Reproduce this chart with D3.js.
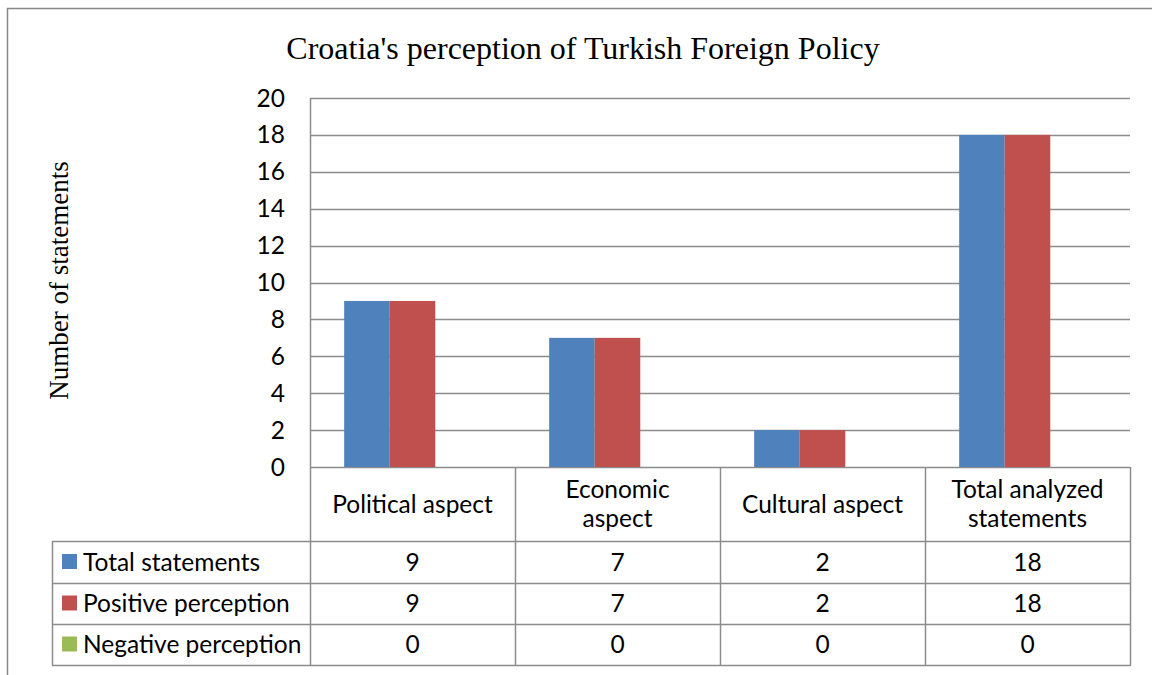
<!DOCTYPE html>
<html lang="en">
<head>
<meta charset="UTF-8">
<title>Croatia's perception of Turkish Foreign Policy</title>
<style>
  body { margin: 0; background: #fff; }
  svg { display: block; }
</style>
</head>
<body>
<div id="chart"></div>
<script src="https://d3js.org/d3.v7.min.js"></script>
<script>
// chart data
var categories = ["Political aspect", "Economic aspect", "Cultural aspect", "Total analyzed statements"];
var categoryLines = [["Political aspect"], ["Economic", "aspect"], ["Cultural aspect"], ["Total analyzed", "statements"]];
var seriesNames = ["Total statements", "Positive perception", "Negative perception"];
var totalStatements = [9, 7, 2, 18];
var positivePerception = [9, 7, 2, 18];
var negativePerception = [0, 0, 0, 0];
var yTicks = [0, 2, 4, 6, 8, 10, 12, 14, 16, 18, 20];
var colors = ["#4f81bd", "#c0504d", "#9bbb59"];

var series = [totalStatements, positivePerception, negativePerception];

var width = 1152, height = 675;
var plot = { left: 310, right: 1130, top: 98, bottom: 467 };
var rowH = [42, 41, 41];
var headerBottom = 541;
var tableLeft = 52;
var tableFont = "Lato, 'Open Sans', sans-serif";
var serifFont = "'Liberation Serif', 'DejaVu Serif', serif";
var tableSize = "24.5px";

var svg = d3.select("#chart").append("svg")
    .attr("width", width).attr("height", height);

// outer frame
svg.append("rect")
    .attr("x", 7.5).attr("y", 8.5)
    .attr("width", width + 10).attr("height", height + 10)
    .attr("fill", "none").attr("stroke", "#868686").attr("stroke-width", 1.5);

// title
svg.append("text")
    .attr("x", 583).attr("y", 59)
    .attr("text-anchor", "middle")
    .style("font-family", serifFont).style("font-size", "32px")
    .text("Croatia's perception of Turkish Foreign Policy");

var x = d3.scaleBand().domain(categories).range([plot.left, plot.right]);
var y = d3.scaleLinear().domain([0, 20]).range([plot.bottom, plot.top]);
var xs = d3.scaleBand().domain(d3.range(series.length))
    .range([0, x.bandwidth()]).paddingInner(0).paddingOuter(0.75);

// gridlines
svg.append("g").selectAll("line").data(yTicks).join("line")
    .attr("x1", plot.left).attr("x2", plot.right)
    .attr("y1", d => Math.round(y(d)) + 0.5).attr("y2", d => Math.round(y(d)) + 0.5)
    .attr("stroke", "#8c8c8c").attr("stroke-width", 1.5);

// y tick labels
svg.append("g").selectAll("text").data(yTicks).join("text")
    .attr("x", 285).attr("y", d => y(d))
    .attr("dy", "0.35em").attr("text-anchor", "end")
    .style("font-family", tableFont).style("font-size", tableSize)
    .text(d => d);

// y axis title
svg.append("text")
    .attr("transform", "translate(68," + ((plot.top + plot.bottom) / 2 - 2) + ") rotate(-90)")
    .attr("text-anchor", "middle")
    .style("font-family", serifFont).style("font-size", "27px")
    .text("Number of statements");

// bars
series.forEach(function (vals, si) {
  svg.append("g").selectAll("rect").data(vals).join("rect")
      .attr("x", (d, i) => x(categories[i]) + xs(si))
      .attr("y", d => y(d))
      .attr("width", xs.bandwidth())
      .attr("height", d => y(0) - y(d))
      .attr("fill", colors[si]);
});

// data table
var tbl = svg.append("g");
var lineColor = "#8c8c8c";
var rowTops = [headerBottom];
rowH.forEach((h, i) => rowTops.push(rowTops[i] + h));
var tableBottom = rowTops[rowTops.length - 1];

// vertical lines through header and rows
var colEdges = [plot.left].concat(categories.map(c => x(c) + x.bandwidth()));
colEdges.forEach(function (cx) {
  tbl.append("line")
      .attr("x1", cx + 0.5).attr("x2", cx + 0.5)
      .attr("y1", cx === plot.left ? plot.top : plot.bottom).attr("y2", tableBottom)
      .attr("stroke", lineColor).attr("stroke-width", 1.5);
});
tbl.append("line")
    .attr("x1", tableLeft + 0.5).attr("x2", tableLeft + 0.5)
    .attr("y1", headerBottom).attr("y2", tableBottom)
    .attr("stroke", lineColor).attr("stroke-width", 1.5);
// horizontal lines
rowTops.forEach(function (ry) {
  tbl.append("line")
      .attr("x1", tableLeft).attr("x2", plot.right + 1)
      .attr("y1", ry + 0.5).attr("y2", ry + 0.5)
      .attr("stroke", lineColor).attr("stroke-width", 1.5);
});

// header texts
categories.forEach(function (c, i) {
  var lines = categoryLines[i];
  var cy = (plot.bottom + headerBottom) / 2;
  var lh = 29;
  lines.forEach(function (ln, li) {
    tbl.append("text")
        .attr("x", x(c) + x.bandwidth() / 2)
        .attr("y", cy + (li - (lines.length - 1) / 2) * lh)
        .attr("dy", "0.35em").attr("text-anchor", "middle")
        .style("font-family", tableFont).style("font-size", tableSize)
        .text(ln);
  });
});

// row legend + values
series.forEach(function (vals, si) {
  var cy = (rowTops[si] + rowTops[si + 1]) / 2;
  tbl.append("rect")
      .attr("x", 62).attr("y", cy - 8)
      .attr("width", 15).attr("height", 15)
      .attr("fill", colors[si]);
  tbl.append("text")
      .attr("x", 83).attr("y", cy)
      .attr("dy", "0.35em")
      .style("font-family", tableFont).style("font-size", tableSize)
      .text(seriesNames[si]);
  vals.forEach(function (v, i) {
    tbl.append("text")
        .attr("x", x(categories[i]) + x.bandwidth() / 2).attr("y", cy)
        .attr("dy", "0.35em").attr("text-anchor", "middle")
        .style("font-family", tableFont).style("font-size", tableSize)
        .text(v);
  });
});
</script>
</body>
</html>
